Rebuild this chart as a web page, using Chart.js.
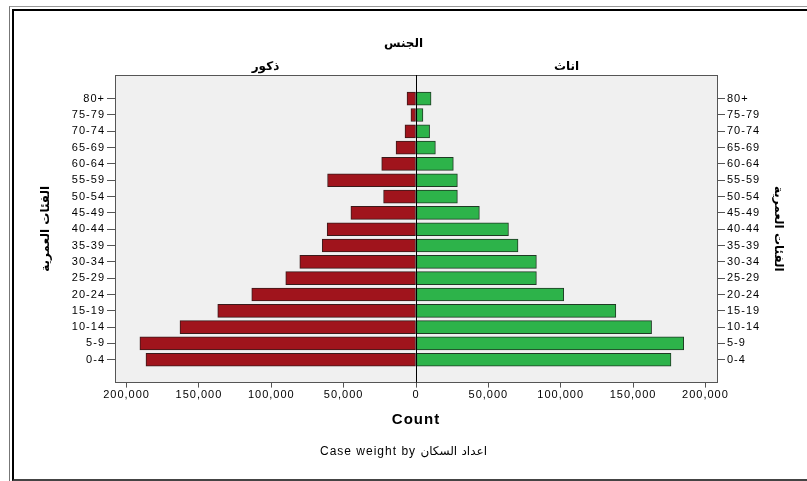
<!DOCTYPE html>
<html>
<head>
<meta charset="utf-8">
<script src="https://cdn.jsdelivr.net/npm/chart.js@4.4.0/dist/chart.umd.min.js"></script>
<style>
html, body { margin: 0; padding: 0; background: #fff; }
#wrap { position: relative; width: 807px; height: 481px; overflow: hidden; }
#moldura1 { position: absolute; left: 9px; top: 6px; width: 900px; height: 600px; border-left: 1px solid #777; border-top: 1px solid #999; }
#moldura2 { position: absolute; left: 12px; top: 9px; width: 900px; height: 468px; border-left: 2px solid #000; border-top: 2px solid #000; border-bottom: 2px solid #444; }
canvas { position: absolute; left: 0; top: 0; }
</style>
</head>
<body>
<div id="wrap">
  <div id="moldura1"></div>
  <div id="moldura2"></div>
  <canvas id="grafico" width="807" height="481"></canvas>
</div>
<script>
// faixas etarias, de baixo para cima
var faixas = ['0-4', '5-9', '10-14', '15-19', '20-24', '25-29', '30-34', '35-39', '40-44',
              '45-49', '50-54', '55-59', '60-64', '65-69', '70-74', '75-79', '80+'];

// homens (ذكور) e mulheres (اناث)
var homens = [186600, 190800, 163100, 137000, 113500, 90000, 80300, 64800, 61400,
              45000, 22400, 61100, 23700, 13800, 7600, 3500, 6200];
var mulheres = [176200, 185000, 162800, 138100, 102100, 83200, 83200, 70500, 63900,
                43800, 28600, 28600, 25800, 13400, 9400, 4800, 10400];

// rotulos do eixo x
var ticksX = [-200000, -150000, -100000, -50000, 0, 50000, 100000, 150000, 200000];
var sexos = ['ذكور', 'اناث'];

Chart.defaults.font.family = "'Liberation Sans', 'DejaVu Sans', Arial, sans-serif";
Chart.defaults.color = '#000';

// fundo cinza, linha do zero e texto um pouco mais largo
var fundo = {
    id: 'fundo',
    beforeDraw: function (chart) {
        var a = chart.chartArea, c = chart.ctx;
        c.letterSpacing = '1px';
        c.save();
        c.fillStyle = '#f0f0f0';
        c.fillRect(a.left, a.top, a.right - a.left, a.bottom - a.top);
        c.restore();
    },
    afterDatasetsDraw: function (chart) {
        var a = chart.chartArea, c = chart.ctx;
        var x0 = chart.scales.x.getPixelForValue(0);
        c.save();
        c.strokeStyle = '#000';
        c.lineWidth = 1;
        c.beginPath();
        c.moveTo(Math.round(x0) + 0.5, a.top);
        c.lineTo(Math.round(x0) + 0.5, a.bottom);
        c.stroke();
        c.restore();
    }
};

function ticksFaixas(scale) {
    scale.ticks = faixas.map(function (f, i) { return { value: i }; });
}

var eixoY = function (pos, padTitulo) {
    return {
        type: 'linear',
        position: pos,
        min: -1.4,
        max: 17.45,
        offset: false,
        stacked: true,
        afterBuildTicks: ticksFaixas,
        afterFit: function (s) { s.width = pos === 'left' ? 115 : 90; },
        ticks: {
            padding: 2,
            font: { size: 11 },
            callback: function (v) { return faixas[v]; }
        },
        grid: { drawOnChartArea: false, offset: false, tickLength: 8, color: '#555' },
        border: { color: '#555', width: 1 },
        title: {
            display: true,
            text: 'الفئات العمرية',
            font: { size: 12, weight: 'bold' },
            padding: { top: padTitulo, bottom: 0 }
        }
    };
};

var data = {
    datasets: [{
        label: 'ذكور',
        data: homens.map(function (v, i) { return { x: -v, y: i }; }),
        backgroundColor: '#a0141c',
        borderColor: '#3a1a1a',
        borderWidth: 1,
        borderSkipped: false,
        barThickness: 13
    }, {
        label: 'اناث',
        data: mulheres.map(function (v, i) { return { x: v, y: i }; }),
        backgroundColor: '#2db34a',
        borderColor: '#1f3a24',
        borderWidth: 1,
        borderSkipped: false,
        barThickness: 13
    }]
};

var options = {
    indexAxis: 'y',
    responsive: false,
    animation: false,
    layout: { padding: { left: 0, right: 0, top: 0, bottom: 0 } },
    plugins: {
        legend: { display: false },
        tooltip: { enabled: false },
        title: {
            display: true,
            text: 'الجنس',
            font: { size: 12, weight: 'bold' },
            padding: { top: 36, bottom: 0 }
        },
        subtitle: {
            display: true,
            position: 'bottom',
            text: 'Case weight by اعداد السكان',
            font: { size: 12 },
            padding: { top: 2, bottom: 22 }
        }
    },
    scales: {
        x: {
            type: 'linear',
            position: 'bottom',
            min: -208000,
            max: 208000,
            stacked: true,
            afterBuildTicks: function (s) { s.ticks = ticksX.map(function (v) { return { value: v }; }); },
            afterFit: function (s) { s.height = 60; },
            ticks: {
                padding: 1,
                font: { size: 11 },
                maxRotation: 0,
                callback: function (v) { return Math.abs(v).toLocaleString('en-US'); }
            },
            grid: { drawOnChartArea: false, tickLength: 5, color: '#555' },
            border: { color: '#555', width: 1 },
            title: {
                display: true,
                text: 'Count',
                font: { size: 15, weight: 'bold' },
                padding: { top: 0, bottom: 14 }
            }
        },
        x2: {
            type: 'category',
            position: 'top',
            labels: sexos,
            offset: true,
            afterFit: function (s) { s.height = 24.6; },
            ticks: { padding: -7, font: { size: 12, weight: 'bold' } },
            grid: { display: false },
            border: { color: '#555', width: 1 }
        },
        y: eixoY('left', 38),
        y2: eixoY('right', 21)
    }
};

var ctx = document.querySelector('#grafico').getContext('2d');
var grafico = new Chart(ctx, {
    type: 'bar',
    data: data,
    options: options,
    plugins: [fundo]
});
</script>
</body>
</html>
